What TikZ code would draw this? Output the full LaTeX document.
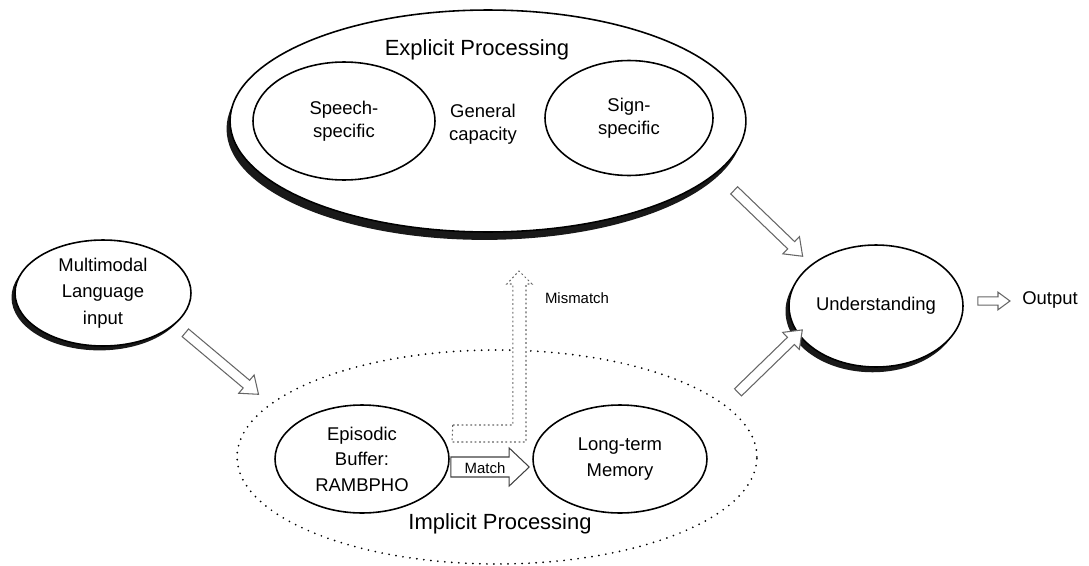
\documentclass[tikz,border=0pt]{standalone}
\usepackage{fontspec}
\setmainfont{Liberation Sans}
\usetikzlibrary{shapes.geometric,shadows,calc}

\begin{document}
\begin{tikzpicture}[
      x=0.02cm, y=-0.02cm,
      font=\fontsize{10.5}{13}\selectfont,
      oval/.style={ellipse,draw,fill=white,line width=0.9pt,inner sep=0pt,align=center},
      dropped/.style={drop shadow={shadow xshift=-2pt,shadow yshift=-#1,opacity=0.9,fill=black}},
      small/.style={font=\fontsize{8.5}{10}\selectfont},
      big/.style={font=\fontsize{12.5}{15}\selectfont},
      hollow/.style n args={3}{draw=black!60,fill=white,line width=0.6pt,to path={
        let \p1=(\tikztostart), \p2=(\tikztotarget),
            \n1={atan2(\y2-\y1,\x2-\x1)}, \n2={veclen(\x2-\x1,\y2-\y1)-#3pt} in
        ([shift={(\p1)},rotate=\n1]0pt,-#1pt) -- ([shift={(\p1)},rotate=\n1]\n2,-#1pt)
        -- ([shift={(\p1)},rotate=\n1]\n2,-#2pt) -- (\tikztotarget)
        -- ([shift={(\p1)},rotate=\n1]\n2,#2pt) -- ([shift={(\p1)},rotate=\n1]\n2,#1pt)
        -- ([shift={(\p1)},rotate=\n1]0pt,#1pt) -- cycle}}
    ]
    \useasboundingbox (0,0) rectangle (1089,565);
    \node[oval,dropped=4.5pt,minimum width=10.32cm,minimum height=4.44cm] (explicit) at (488,121) {};
    \node[big] (explab) at (477,50) {Explicit Processing};
    \node[oval,minimum width=3.64cm,minimum height=2.36cm] (speech) at (344,121) {Speech-\\specific};
    \node[align=center] (general) at (483,124) {General\\capacity};
    \node[oval,minimum width=3.36cm,minimum height=2.3cm] (sign) at (629,118) {Sign-\\specific};
    \node[oval,dropped=2.5pt,minimum width=3.52cm,minimum height=2.12cm,font=\fontsize{10.5}{15}\selectfont] (multi) at (103,293) {Multimodal\\Language\\input};
    \node[oval,dropped=3pt,minimum width=3.48cm,minimum height=2.44cm] (und) at (876,306) {Understanding};
    \node[inner sep=0pt] (out) at (1050,300) {Output};
    \node[oval,line width=1.1pt,dash pattern=on 0pt off 4pt,line cap=round,minimum width=10.4cm,minimum height=4.28cm] (implicit) at (497,457) {};
    \node[big] (implab) at (500,524) {Implicit Processing};
    \node[oval,minimum width=3.48cm,minimum height=2.16cm,font=\fontsize{10.5}{14.5}\selectfont] (epi) at (362,459) {Episodic\\Buffer:\\RAMBPHO};
    \node[oval,minimum width=3.48cm,minimum height=2.16cm,font=\fontsize{10.5}{14.5}\selectfont] (ltm) at (620,459) {Long-term\\Memory};
    \coordinate (mistip) at (519,271);
    \draw[draw=black!60,fill=white,line width=0.6pt,dash pattern=on 1pt off 1.5pt]
      ([shift={(3,-34)}]epi.east) -- ++(60,0) -- ++(0,-141) -- ++(-6,0) -- (mistip)
      -- ++(13,13) -- ++(-6,0) -- ++(0,158) -- ++(-74,0) -- cycle;
    \node[small] (mislab) at (577,298) {Mismatch};
    \draw[hollow={5.7}{10.8}{11.4},draw=black!75] ([shift={(1,8)}]epi.east) to ([shift={(-3,8)}]ltm.west);
    \node[small] (matchlab) at (485,468) {Match};
    \draw[hollow={2.85}{6.8}{9}] ([shift={(12,7)}]multi.-25) to ([shift={(-15,-7)}]implicit.166);
    \draw[hollow={2.85}{6.8}{9}] ([shift={(14,20)}]explicit.-12) to ([shift={(-10,-7)}]und.146);
    \draw[hollow={2.85}{6.8}{9}] ([shift={(22,-6)}]implicit.15) to ([shift={(6,-2)}]und.198);
    \draw[hollow={2.3}{5}{6.8}] ([shift={(14,-5)}]und.east) to ([shift={(-12,1)}]out.west);
  \end{tikzpicture}
\end{document}
